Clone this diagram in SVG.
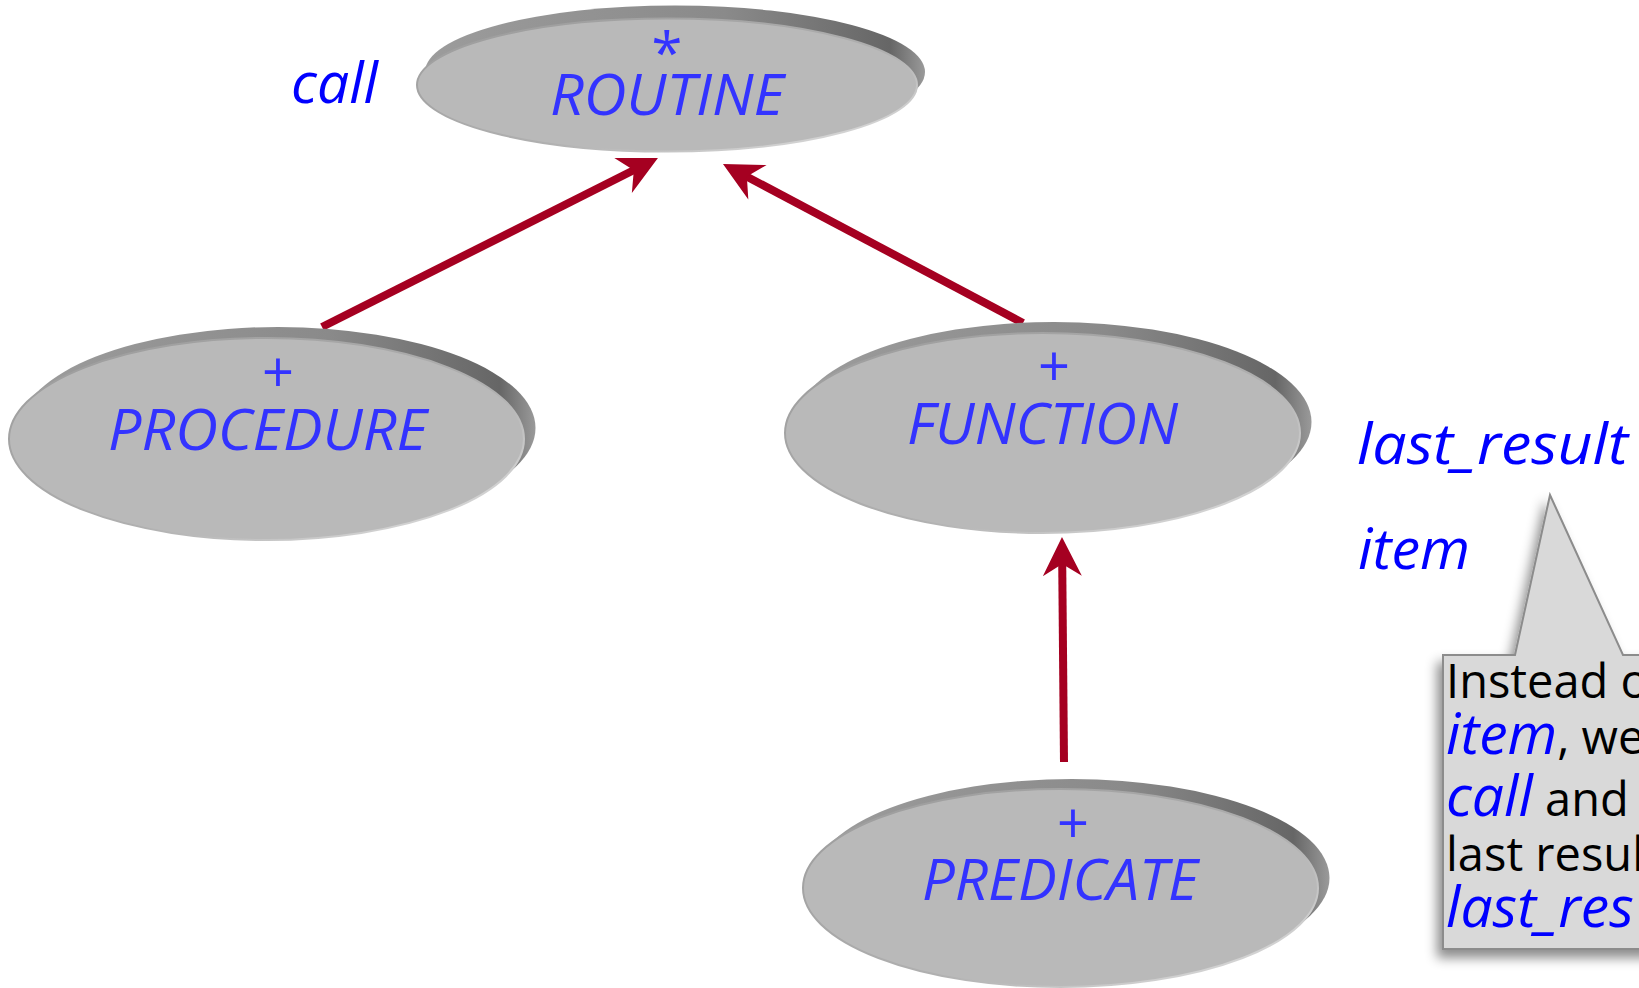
<svg xmlns="http://www.w3.org/2000/svg" width="1639" height="988" viewBox="0 0 1639 988">
<style>
.node-txt{font-family:"Open Sans","Noto Sans","Liberation Sans",sans-serif;font-size:56px;fill:#3333ff;text-anchor:middle}
.lbl{font-style:italic}
.feat{font-family:"Open Sans","Noto Sans","Liberation Sans",sans-serif;font-style:italic;font-size:56px;fill:#0000ff}
.note{font-family:"Open Sans","Noto Sans","Liberation Sans",sans-serif;font-size:47px;fill:#000000}
.kw{font-style:italic;fill:#0000ff;font-size:57px}
.rim{fill:url(#rimGrad)}
.face{fill:#b9b9b9;stroke:url(#edgeGrad);stroke-width:2}
.conn{stroke:#a50021;stroke-width:8;fill:none;marker-end:url(#stealth)}
</style>
<defs>
<linearGradient id="rimGrad" x1="0" y1="0" x2="1" y2="0">
<stop offset="0" stop-color="#9c9c9c"/>
<stop offset="0.6" stop-color="#8a8a8a"/>
<stop offset="0.93" stop-color="#666666"/>
<stop offset="1" stop-color="#9a9a9a"/>
</linearGradient>
<linearGradient id="edgeGrad" x1="0" y1="0" x2="1" y2="1">
<stop offset="0" stop-color="#9a9a9a"/>
<stop offset="0.6" stop-color="#b0b0b0"/>
<stop offset="1" stop-color="#e6e6e6"/>
</linearGradient>
<marker id="stealth" viewBox="-15 -22 45 44" markerWidth="45" markerHeight="44" refX="3" refY="0" markerUnits="userSpaceOnUse" orient="auto">
<path d="M27,0 L-12,-19.5 L0,0 L-12,19.5 Z" fill="#a50021"/>
</marker>
<filter id="calloutShadow" x="-20%" y="-20%" width="140%" height="140%">
<feDropShadow dx="-5" dy="8" stdDeviation="6" flood-color="#000000" flood-opacity="0.45"/>
</filter>
</defs>
<rect width="1639" height="988" fill="#ffffff"/>

<g id="connectors">
<path class="conn" d="M322,327 L636.5,168.8"/>
<path class="conn" d="M1023,323 L744.2,175.2"/>
<path class="conn" d="M1064,762 L1062.2,561"/>
</g>

<g id="node-routine">
<ellipse class="rim" cx="675" cy="72" rx="250" ry="66.5"/>
<ellipse class="face" cx="667" cy="85" rx="250" ry="66.5"/>
<text class="node-txt"><tspan x="667" y="73">*</tspan><tspan class="lbl" x="667" y="115" textLength="234" lengthAdjust="spacingAndGlyphs">ROUTINE</tspan></text>
</g>

<g id="node-procedure">
<ellipse class="rim" cx="278" cy="428" rx="257.5" ry="101"/>
<ellipse class="face" cx="266.5" cy="439" rx="257.5" ry="101"/>
<text class="node-txt"><tspan x="278" y="392">+</tspan><tspan class="lbl" x="267.5" y="450" textLength="319" lengthAdjust="spacingAndGlyphs">PROCEDURE</tspan></text>
</g>

<g id="node-function">
<ellipse class="rim" cx="1054" cy="422" rx="257.5" ry="100"/>
<ellipse class="face" cx="1042.5" cy="433" rx="257.5" ry="100"/>
<text class="node-txt"><tspan x="1054" y="386">+</tspan><tspan class="lbl" x="1042.5" y="444" textLength="271" lengthAdjust="spacingAndGlyphs">FUNCTION</tspan></text>
</g>

<g id="node-predicate">
<ellipse class="rim" cx="1072" cy="878" rx="257.5" ry="99"/>
<ellipse class="face" cx="1060.5" cy="888" rx="257.5" ry="99"/>
<text class="node-txt"><tspan x="1073" y="843">+</tspan><tspan class="lbl" x="1060" y="900" textLength="276" lengthAdjust="spacingAndGlyphs">PREDICATE</tspan></text>
</g>

<g id="features">
<text class="feat" x="291" y="103" textLength="87" lengthAdjust="spacingAndGlyphs">call</text>
<text class="feat" x="1357" y="464" textLength="271" lengthAdjust="spacingAndGlyphs">last_result</text>
<text class="feat" x="1358" y="569" textLength="112" lengthAdjust="spacingAndGlyphs">item</text>
</g>

<g id="callout">
<path d="M1443,655 L1515,655 L1550,495 L1623,655 L1660,655 L1660,949 L1443,949 Z" fill="#d9d9d9" stroke="#8c8c8c" stroke-width="2" filter="url(#calloutShadow)"/>
<text class="note"><tspan x="1446" y="698">Instead o</tspan><tspan x="1446" y="754" class="kw">item</tspan><tspan>, we</tspan><tspan x="1446" y="816" class="kw">call</tspan><tspan> and</tspan><tspan x="1446" y="871">last resul</tspan><tspan x="1446" y="927" class="kw">last_res</tspan></text>
</g>
</svg>
